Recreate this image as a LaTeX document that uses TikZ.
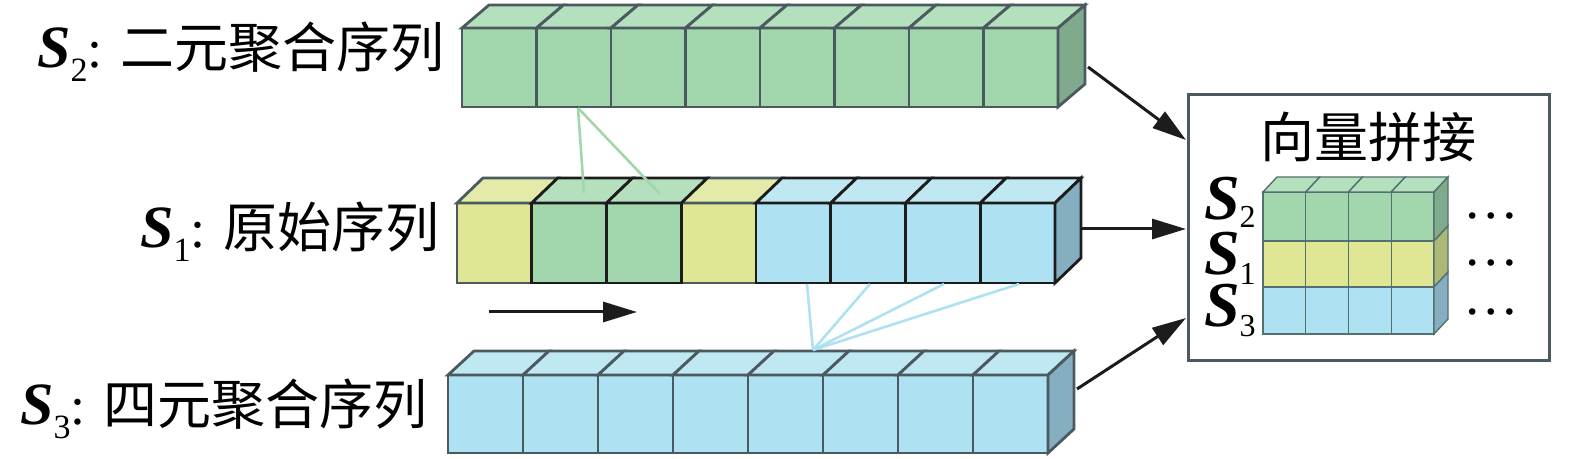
\documentclass[tikz,border=0pt]{standalone}
\usepackage{fontspec}
\setmainfont{Liberation Serif}
\newfontfamily\cjk{Noto Sans CJK SC}
\usetikzlibrary{arrows.meta}
\definecolor{gF}{HTML}{A2D6AC}
\definecolor{gT}{HTML}{B4E0BE}
\definecolor{gS}{HTML}{7FAA8C}
\definecolor{yF}{HTML}{DFE694}
\definecolor{yT}{HTML}{E4EAA8}
\definecolor{yS}{HTML}{ADB877}
\definecolor{bF}{HTML}{AEE1F1}
\definecolor{bT}{HTML}{BFE8F3}
\definecolor{bS}{HTML}{86AEC1}
\definecolor{edge}{HTML}{4A5A5E}
\definecolor{dark}{HTML}{1C1C1C}
\definecolor{mini}{HTML}{557070}
% #1 S size, #2 subscript size, #3 lowering, #4 digit
\newcommand\Slab[4]{{\fontsize{#1}{#1}\selectfont\bfseries\itshape S}{\fontsize{#2}{#2}\selectfont\raisebox{-#3}{#4}}}
% one cell: #1 left x, #2 front colour, #3 top colour, #4 edge colour
\newcommand\onecell[4]{%
  \filldraw[fill=#2,draw=#4] (#1,\ytop) rectangle ({#1+\cw},\ybot);
  \filldraw[fill=#3,draw=#4] (#1,\ytop) -- ({#1+\dx},{\ytop-\dh}) -- ({#1+\cw+\dx},{\ytop-\dh}) -- ({#1+\cw},\ytop) -- cycle;}
% side face: #1 right x of front, #2 colour, #3 edge
\newcommand\sideface[3]{%
  \filldraw[fill=#2,draw=#3] (#1,\ytop) -- ({#1+\dx},{\ytop-\dh}) -- ({#1+\dx},{\ybot-\dh}) -- (#1,\ybot) -- cycle;}
\begin{document}
\begin{tikzpicture}[x=0.5pt,y=-0.5pt,
  lab/.style={inner sep=0pt,font=\fontsize{27}{27}\selectfont},
  mlab/.style={lab,anchor=base east,text height=20pt,text depth=5pt},
  dots/.style={inner sep=0pt,anchor=base,text height=3pt,text depth=0pt,font=\fontsize{27.75}{27.75}\selectfont},
  arr/.style={line width=1.5pt,draw=dark,-{Triangle[length=17pt,width=10pt]}},
  cellline/.style={line width=1.4pt},
  glink/.style={line width=1.3pt,draw=gF},
  blink/.style={line width=1.3pt,draw=bF}]
\useasboundingbox (0,0) rectangle (1575,459);

% ---------- S2 row ----------
\begin{scope}[cellline]
\def\ytop{28}\def\ybot{107}\def\cw{74.5}\def\dx{27}\def\dh{23}
\foreach \i in {0,...,7}{\pgfmathsetmacro\xx{462+\i*74.5}\onecell{\xx}{gF}{gT}{edge}}
\sideface{1058}{gS}{edge}
\end{scope}

% ---------- S3 row ----------
\begin{scope}[cellline]
\def\ytop{375}\def\ybot{453}\def\cw{75}\def\dx{26}\def\dh{24}
\foreach \i in {0,...,7}{\pgfmathsetmacro\xx{448+\i*75}\onecell{\xx}{bF}{bT}{edge}}
\sideface{1048}{bS}{edge}
\end{scope}

% ---------- S1 row ----------
\begin{scope}[cellline]
\def\ytop{203}\def\ybot{283}\def\cw{74.75}\def\dx{26}\def\dh{25}
\onecell{457}{yF}{yT}{edge}
\onecell{681.25}{yF}{yT}{edge}
\onecell{531.75}{gF}{gT}{dark}
\onecell{606.5}{gF}{gT}{dark}
\foreach \i in {4,...,7}{\pgfmathsetmacro\xx{457+\i*74.75}\onecell{\xx}{bF}{bT}{dark}}
\sideface{1055}{bS}{dark}
\end{scope}

% ---------- link lines ----------
\coordinate (g0) at (578,108);
\coordinate (g1) at (584,193);
\coordinate (g2) at (660,194);
\draw[glink] (g0) -- (g1);
\draw[glink] (g0) -- (g2);
\coordinate (b0) at (813,350);
\coordinate (b1) at (807,284);
\coordinate (b2) at (870,284);
\coordinate (b3) at (944,284);
\coordinate (b4) at (1019,284);
\foreach \k in {1,2,3,4}{\draw[blink] (b0) -- (b\k);}

% ---------- direction arrow ----------
\coordinate (d0) at (489,312);
\coordinate (d1) at (637,312);
\draw[arr] (d0) -- (d1);

% ---------- labels ----------
\node[lab,anchor=base east] (l2) at (445,68) {\Slab{30}{17}{7pt}{2}: \cjk 二元聚合序列};
\node[lab,anchor=base east] (l1) at (440,248) {\Slab{30}{17}{7pt}{1}: \cjk 原始序列};
\node[lab,anchor=base east] (l3) at (428,425) {\Slab{30}{17}{7pt}{3}: \cjk 四元聚合序列};

% ---------- concatenation box ----------
\node[draw=edge,line width=1.5pt,minimum width=180.5pt,minimum height=133pt,inner sep=0pt,anchor=north west] (box) at (1187,93) {};
\node[lab] (title) at (1368,137) {\cjk 向量拼接};

\begin{scope}[line width=0.7pt]
\def\cw{42.75}\def\dx{14}\def\dh{15}
\def\ytop{192}\def\ybot{241}
\foreach \i in {0,...,3}{\pgfmathsetmacro\xx{1263+\i*42.75}\onecell{\xx}{gF}{gT}{mini}}
\sideface{1434}{gS}{mini}
\def\ytop{241}\def\ybot{287}
\foreach \i in {0,...,3}{\pgfmathsetmacro\xx{1263+\i*42.75}\filldraw[fill=yF,draw=mini] (\xx,\ytop) rectangle ({\xx+\cw},\ybot);}
\sideface{1434}{yS}{mini}
\def\ytop{287}\def\ybot{334}
\foreach \i in {0,...,3}{\pgfmathsetmacro\xx{1263+\i*42.75}\filldraw[fill=bF,draw=mini] (\xx,\ytop) rectangle ({\xx+\cw},\ybot);}
\sideface{1434}{bS}{mini}
\end{scope}

\node[mlab] (m2) at (1256,220) {\Slab{32}{16}{4pt}{2}};
\node[mlab] (m1) at (1256,275) {\Slab{32}{16}{5pt}{1}};
\node[mlab] (m3) at (1256,327) {\Slab{32}{16}{5pt}{3}};
\node[dots] (c2) at (1491,218.5) {…};
\node[dots] (c1) at (1491,265.5) {…};
\node[dots] (c3) at (1491,314.5) {…};

% ---------- arrows into box ----------
\coordinate (a1) at (1088,67);
\coordinate (e1) at (1186,140);
\coordinate (a2) at (1081,229);
\coordinate (e2) at (1186,229);
\coordinate (a3) at (1077,389);
\coordinate (e3) at (1186,318);
\draw[arr] (a1) -- (e1);
\draw[arr] (a2) -- (e2);
\draw[arr] (a3) -- (e3);
\end{tikzpicture}
\end{document}
